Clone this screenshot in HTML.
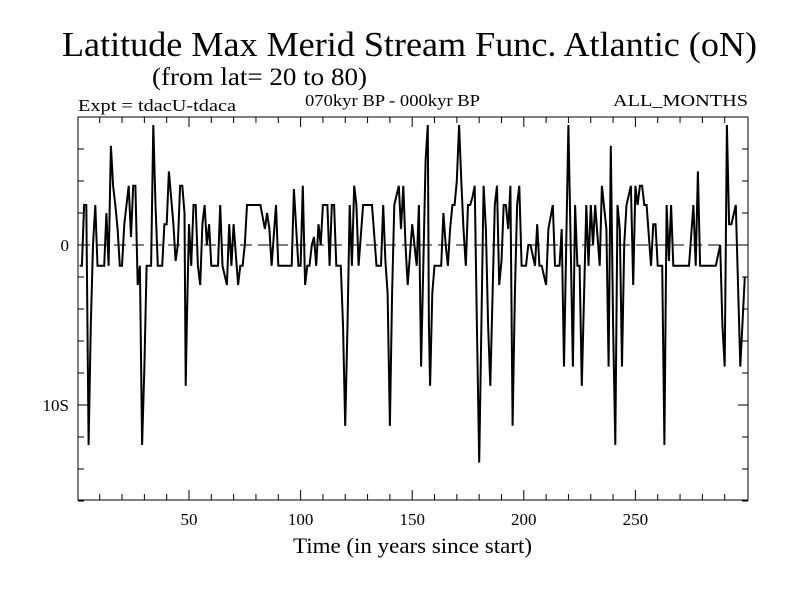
<!DOCTYPE html>
<html><head><meta charset="utf-8"><style>
html,body{margin:0;padding:0;background:#fff}
svg{display:block;font-family:"Liberation Serif",serif}
</style></head><body>
<svg id="chart" width="800" height="600" viewBox="0 0 800 600">
<rect width="800" height="600" fill="#fff"/>
<text x="62" y="56" font-size="35" textLength="695" lengthAdjust="spacingAndGlyphs">Latitude Max Merid Stream Func. Atlantic (oN)</text>
<text x="152" y="85" font-size="25" textLength="215" lengthAdjust="spacingAndGlyphs">(from lat= 20 to 80)</text>
<text x="78" y="111" font-size="17" textLength="158" lengthAdjust="spacingAndGlyphs">Expt = tdacU-tdaca</text>
<text x="305" y="106" font-size="17" textLength="175" lengthAdjust="spacingAndGlyphs">070kyr BP - 000kyr BP</text>
<text x="613" y="106" font-size="17" textLength="135" lengthAdjust="spacingAndGlyphs">ALL_MONTHS</text>
<text x="293" y="553" font-size="22" textLength="239" lengthAdjust="spacingAndGlyphs">Time (in years since start)</text>
<g id="axes"></g>
<g id="series"></g>
<rect x="78" y="117" width="670" height="383" fill="none" stroke="#000" stroke-width="1"/>
</svg>
<script>
const years=[1,2,3,4,5,6,7,8,9,12,13,14,15,16,17,18,19,20,21,22,23,24,25,26,27,28,29,30,31,33,34,35,36,38,39,40,41,43,44,45,46,47,48,48.5,49,50,51,
52,53,54,55,56,57,58,59,60,61,63,64,65,67,68,69,70,72,73,74,75,76,82,84,85,86,87,89,90,96,97,
99,100,101,102,103,104,105,106,107,108,109,110,112,113,114,115,116,118,119,120,121,122,123,124,125,126,128,132,134,136,137,138,139,140,141,142,144,145,146,147,148,
150,152,153,154,156,157,157.5,158,159,160,163,164,165,166,167,168,169,170,171,172,173,174,175,176,177,178,179,180,181,182,183,184,185,186,187,188,189,190,191,192,193,194,195,196,197,198,199,
200,201,202,203,205,206,207,208,210,211,213,214,216,217,218,220,221,222,223,224,225,226,228,229,230,231,232,234,235,237,238,239,240,241,242,243,244,245,246,248,249,
250,251,252,253,254,255,257,258,259,260,262,263,264,265,266,267,274,276,277,278,279,286,288,289,290,291,292,293,295,297,299];
const values=[-1.3,-1.3,2.5,2.5,-12.5,-5,0,2.5,-1.3,-1.3,2,-1.3,6.2,3.7,2.5,1,-1.3,-1.3,1.3,2.5,3.7,0.5,3.7,3.7,-2.5,-1.3,-12.5,-7.6,-1.3,-1.3,7.5,2.5,-1.3,-1.3,1.3,1.3,4.6,1.3,-1,0,3.7,3.7,2,-8.8,-5,1.3,-1.3,
2.5,2.5,-1.3,-2.5,1.3,2.5,0,1.3,-1.3,-1.3,-1.3,2.5,-1.3,-2.5,1.3,-1.3,1.3,-2.5,-1.3,-1.3,0,2.5,2.5,1,2,1,-1.3,2.5,-1.3,-1.3,3.5,
-1.3,-1.3,3.7,-2.5,-1.3,-1.3,0,0.5,-1.3,1.3,0,2.5,2.5,-1.3,2.5,2.5,-1.3,-1.3,-5,-11.3,-5,2.5,-1.3,3.7,2.5,-1.3,2.5,2.5,-1.3,-1.3,2.5,-1,-3,-11.3,-3,2.5,3.7,1,3.7,0,-2.5,
1.3,-1.3,2.5,-7.6,5.3,7.5,-5,-8.8,-3,-1.3,-1.3,2,0,-1.3,1,2.5,2.5,4,7.5,4,1,-1.3,2.5,2.5,3,3.7,-5,-13.6,-5,3.7,1,-5,-8.8,-3,2.5,3.7,-2.5,-1,2.5,2.5,1,3.7,-11.3,-3,2.5,3.7,-1.3,
-1.3,-1.3,0,0,-1.3,1.3,-1.3,-1.3,-2.5,1,2.5,-1.3,-1.3,1,-7.6,7.5,0,-7.6,2.5,-1.3,-1.3,-8.8,2.5,-1.3,2.5,0,2.5,-1.3,3.7,1,-7.6,6.2,-5,-12.5,2.5,1,-7.6,0,2.5,3.7,-2.5,
3.7,2.5,3.7,3.7,2.5,2.5,-1.3,1.3,1.3,-1.3,-1.3,-12.5,2.5,-1,2.5,-1.3,-1.3,2.5,-1.3,4.6,-1.3,-1.3,0,-5,-7.6,7.5,1.3,1.3,2.5,-7.6,-2];
const yTickVals=[8,6,4,2,0,-2,-4,-6,-8,-10,-12,-14,-16];
const yLabels=[{v:0,t:"0"},{v:-10,t:"10S"}];
const xLabels=[50,100,150,200,250];
const X0=77.4,XS=2.232,Y0=245,YS=16;
function sx(v){return X0+XS*v;}
function sy(v){return Y0-YS*v;}
const NS="http://www.w3.org/2000/svg";
const axes=document.getElementById('axes');
function mk(tag,attrs,parent){const e=document.createElementNS(NS,tag);for(const k in attrs)e.setAttribute(k,attrs[k]);parent.appendChild(e);return e;}
for(let x=10;x<300;x+=10){
  const major=x%50===0, L=major?10:6;
  const t1=mk('line',{x1:sx(x),x2:sx(x),y1:500,y2:500-L,stroke:'#000'},axes);
  
  
  const t2=mk('line',{x1:sx(x),x2:sx(x),y1:117,y2:117+L,stroke:'#000'},axes);
  
  
}
xLabels.forEach(v=>{
  const t=mk('text',{x:sx(v),y:525,'font-size':17,'text-anchor':'middle'},axes);
  t.textContent=String(v);
  
  
});
yTickVals.forEach(v=>{
  const major=v%10===0, L=major?10:6;
  const a=mk('line',{x1:78,x2:78+L,y1:sy(v),y2:sy(v),stroke:'#000'},axes);
  
  
  const b=mk('line',{x1:748,x2:748-L,y1:sy(v),y2:sy(v),stroke:'#000'},axes);
  
  
});
yLabels.forEach(o=>{
  const t=mk('text',{x:69,y:sy(o.v)+6,'font-size':17,'text-anchor':'end'},axes);
  t.textContent=o.t;
  
  
});
const zl=mk('line',{x1:78,x2:748,y1:sy(0),y2:sy(0),stroke:'#000','stroke-dasharray':'12,6'},axes);


const pts=years.map((y,i)=>sx(y).toFixed(1)+','+sy(values[i]).toFixed(1)).join(' ');
const pl=mk('polyline',{points:pts,fill:'none',stroke:'#000','stroke-width':2,'stroke-linejoin':'miter'},document.getElementById('series'));


</script>
</body></html>
